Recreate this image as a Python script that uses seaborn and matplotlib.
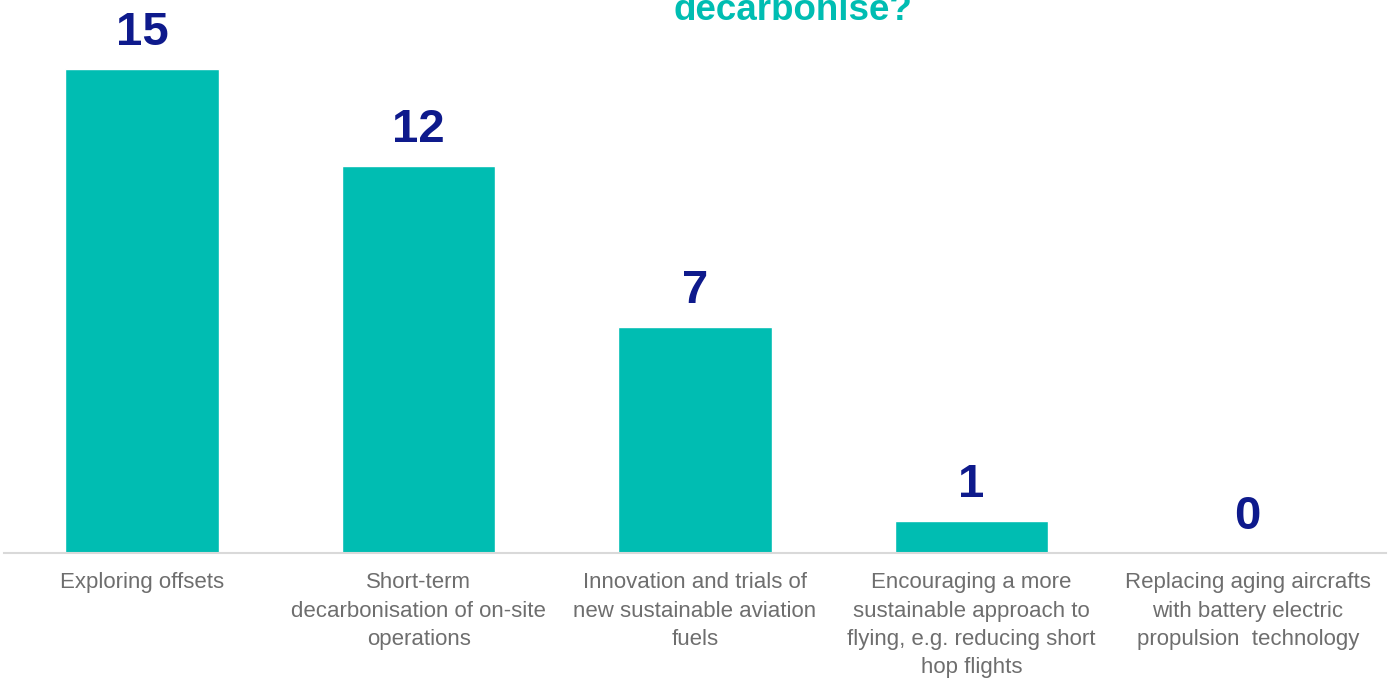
import matplotlib
matplotlib.use("Agg")
import seaborn as sns
import pandas as pd
import matplotlib.pyplot as plt

categories = [
    "Exploring offsets",
    "Short-term\ndecarbonisation of on-site\noperations",
    "Innovation and trials of\nnew sustainable aviation\nfuels",
    "Encouraging a more\nsustainable approach to\nflying, e.g. reducing short\nhop flights",
    "Replacing aging aircrafts\nwith battery electric\npropulsion  technology",
]
counts = [15, 12, 7, 1, 0]
title_text = "decarbonise?"

bar_color = "#00BDB2"
label_color = "#0E1A8C"
tick_color = "#6E6E6E"

sns.set_theme(style="white")
plt.rcParams["font.family"] = ["Liberation Sans", "DejaVu Sans"]

df = pd.DataFrame({"option": categories, "count": counts})

fig = plt.figure(figsize=(13.97, 6.78), dpi=100)
ax = fig.add_axes([4 / 1397, 125 / 678, 1382 / 1397, 553 / 678])
sns.barplot(data=df, x="option", y="count", color=bar_color, width=0.555,
            saturation=1, ax=ax)

ax.set_ylim(0, 553 / 32.26)
ax.set_xlim(-0.5, len(categories) - 0.5)
ax.set_xlabel("")
ax.set_ylabel("")
ax.set_yticks([])
for s in ["top", "right", "left"]:
    ax.spines[s].set_visible(False)
ax.spines["bottom"].set_color("#D9D9D9")
ax.spines["bottom"].set_linewidth(1.5)
ax.tick_params(axis="x", length=0, pad=14)
for lbl in ax.get_xticklabels():
    lbl.set_fontsize(16)
    lbl.set_color(tick_color)
    lbl.set_linespacing(1.45)
    lbl.set_ha("center")

for i, v in enumerate(counts):
    ax.annotate(str(v), xy=(i, v), xytext=(0, 10), textcoords="offset points",
                ha="center", va="bottom", fontsize=34, fontweight="bold",
                color=label_color)

fig.text(793 / 1397, 1 - 20 / 678, title_text, ha="center", va="baseline",
         fontsize=26.5, fontweight="bold", color="#00BDB2")

fig.savefig("out.png", dpi=100)
